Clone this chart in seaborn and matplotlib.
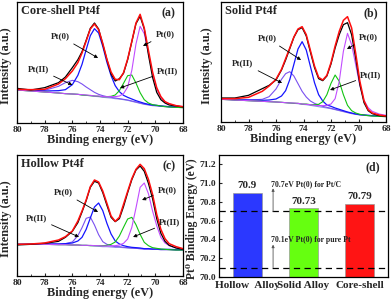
import matplotlib
matplotlib.use("Agg")
import matplotlib.pyplot as plt
import seaborn as sns

# Binding-energy grid shared by the three Pt4f spectra (eV)
energy = [80, 79, 78, 77, 76.5, 76, 75.6, 75.3, 75, 74.7, 74.4, 74.1, 73.8, 73.5, 73.2,
          72.9, 72.6, 72.3, 72, 71.7, 71.4, 71.1, 70.8, 70.5, 70.2, 69.9, 69.6, 69.3, 69, 68.5, 68]

# (a) Core-shell
a_bg = [99, 96, 93, 90, 88, 87, 86, 84, 83, 82, 80, 79, 77, 76, 75, 73, 72, 70, 68, 65, 62, 59, 56, 54, 52, 51, 50, 49, 48, 47, 46]
a_red = [101, 100, 101, 117, 133, 156, 181, 210, 246, 282, 297, 280, 239, 191, 153, 131, 130, 151, 192, 245, 300, 326, 285, 218, 153, 106, 79, 64, 58, 52, 49]
a_black = [104, 99, 106, 121, 138, 166, 190, 214, 248, 284, 300, 282, 236, 190, 147, 126, 133, 149, 190, 244, 298, 320, 282, 205, 137, 92, 70, 60, 54, 51, 48]
a_pt0_52 = [100, 98, 96, 97, 100, 115, 143, 176, 220, 262, 283, 270, 230, 182, 142, 112, 94, 83, 77, 72, 67, 63, 59, 56, 54, 53, 51, 50, 49, 48, 47]
a_pt2_52 = [100, 98, 98, 110, 121, 128, 124, 117, 108, 100, 92, 86, 82, 79, 77, 75, 73, 71, 69, 66, 63, 60, 57, 55, 53, 52, 51, 50, 49, 48, 47]
a_pt0_72 = [99, 96, 93, 90, 88, 87, 86, 85, 84, 83, 81, 81, 79, 79, 79, 79, 81, 88, 108, 158, 237, 290, 268, 210, 148, 102, 77, 63, 57, 52, 49]
a_pt2_72 = [99, 96, 93, 90, 88, 87, 86, 84, 83, 82, 81, 80, 79, 79, 80, 84, 97, 119, 142, 144, 120, 91, 70, 60, 55, 53, 51, 49, 48, 47, 46]

# (b) Solid
b_bg = [68, 66, 64, 62, 61, 60, 59, 58, 57, 56, 55, 53, 52, 50, 48, 46, 44, 42, 40, 37, 34, 31, 28, 25, 23, 21, 20, 19, 18, 17, 16]
b_red = [70, 70, 74, 92, 108, 128, 158, 190, 222, 255, 279, 286, 262, 215, 168, 134, 126, 140, 178, 228, 272, 305, 316, 282, 205, 122, 64, 37, 27, 21, 18]
b_black = [72, 72, 80, 100, 110, 126, 156, 186, 220, 254, 277, 283, 258, 210, 163, 130, 124, 138, 174, 222, 262, 292, 298, 262, 190, 112, 58, 34, 25, 19, 17]
b_pt0_52 = [69, 67, 66, 65, 66, 69, 78, 94, 127, 173, 219, 241, 216, 167, 118, 82, 63, 51, 47, 42, 38, 34, 30, 27, 24, 22, 21, 20, 19, 18, 17]
b_pt2_52 = [69, 67, 66, 68, 76, 99, 128, 145, 151, 138, 115, 92, 75, 63, 56, 51, 47, 44, 41, 38, 35, 32, 29, 26, 24, 22, 21, 20, 19, 18, 17]
b_pt0_72 = [68, 66, 64, 62, 61, 60, 59, 58, 57, 57, 56, 54, 53, 52, 50, 49, 49, 50, 54, 70, 122, 212, 266, 232, 171, 109, 65, 43, 32, 24, 20]
b_pt2_72 = [68, 66, 64, 62, 61, 60, 59, 58, 57, 56, 56, 54, 54, 52, 52, 53, 61, 82, 116, 141, 122, 82, 50, 34, 27, 23, 21, 19, 18, 17, 16]

# (c) Hollow
c_bg = [95, 95, 95, 94, 94, 93, 93, 92, 92, 91, 90, 89, 88, 88, 87, 86, 86, 85, 84, 83, 83, 82, 81, 81, 80, 80, 79, 79, 79, 78, 78]
c_red = [95, 96, 99, 108, 118, 135, 165, 195, 228, 268, 288, 282, 255, 218, 180, 164, 176, 215, 254, 292, 320, 335, 322, 290, 245, 185, 140, 112, 97, 88, 82]
c_black = [93, 95, 98, 104, 116, 134, 160, 192, 226, 266, 284, 279, 250, 212, 176, 163, 172, 208, 250, 289, 318, 330, 314, 278, 232, 172, 128, 104, 92, 84, 80]
c_pt0_52 = [95, 96, 96, 96, 97, 99, 105, 116, 140, 174, 207, 219, 196, 158, 126, 105, 96, 91, 88, 86, 85, 84, 82, 82, 81, 81, 80, 80, 80, 79, 79]
c_pt2_52 = [95, 95, 96, 96, 97, 102, 121, 145, 173, 177, 153, 124, 103, 95, 91, 88, 88, 86, 85, 84, 83, 82, 81, 81, 80, 80, 79, 79, 79, 78, 78]
c_pt0_72 = [95, 95, 95, 94, 94, 93, 93, 92, 92, 92, 91, 91, 90, 90, 90, 91, 93, 98, 111, 146, 204, 266, 279, 247, 195, 151, 116, 99, 91, 84, 82]
c_pt2_72 = [95, 95, 95, 94, 94, 93, 93, 92, 92, 91, 91, 91, 91, 92, 95, 102, 120, 146, 171, 176, 154, 125, 101, 91, 85, 83, 81, 80, 79, 78, 78]

# (d) Pt0 binding energy
bar_names = ["Hollow  Alloy", "Solid Alloy", "Core-shell"]
bar_values = [70.9, 70.73, 70.78]
bar_labels = ["70.9", "70.73", "70.79"]
bar_colors = ["#2b38ff", "#66ff10", "#ff1414"]
ref_lines = [70.7, 70.1]
ref_texts = ["70.7eV Pt(0) for Pt/C", "70.1eV Pt(0) for pure Pt"]

sns.set_style("ticks")
plt.rcParams["font.family"] = ["Liberation Serif", "DejaVu Serif"]
plt.rcParams["font.weight"] = "bold"
plt.rcParams["axes.labelweight"] = "bold"
plt.rcParams["axes.edgecolor"] = "black"
plt.rcParams["axes.linewidth"] = 0.9

W, H = 392, 305
fig = plt.figure(figsize=(W / 100, H / 100), dpi=100)


def box(l, t, r, b):
    return [l / W, 1 - b / H, (r - l) / W, (b - t) / H]


def xps_panel(ax, bg, p52, p2_52, p72, p2_72, black, red, ymax, title, tag, notes, ylab_x):
    curves = [(bg, "#8c93e6", 0.8), (p2_52, "#7a50f0", 0.8), (p52, "#1414ff", 0.9),
              (p2_72, "#12c412", 0.8), (p72, "#c24cff", 0.8), (black, "black", 0.9), (red, "#ff0d0d", 1.1)]
    for vals, col, lw in curves:
        sns.lineplot(x=energy, y=vals, color=col, lw=lw, ax=ax)
    ax.set_xlim(80, 68)
    ax.set_ylim(0, ymax)
    ax.set_xticks([80, 78, 76, 74, 72, 70, 68])
    ax.set_xticks([79, 77, 75, 73, 71, 69], minor=True)
    ax.set_yticks([])
    ax.tick_params(axis="x", which="both", direction="in", labelsize=6.8, pad=2, top=False)
    ax.tick_params(axis="x", which="major", length=2.5)
    ax.tick_params(axis="x", which="minor", length=1.5)
    ax.set_xlabel("Binding energy (eV)", fontsize=8.8, labelpad=0)
    ax.set_ylabel("Intensity (a.u.)", fontsize=8.8)
    ax.yaxis.set_label_coords(ylab_x, 0.47)
    ax.text(0.025, 0.975, title, transform=ax.transAxes, ha="left", va="top", fontsize=8.8)
    ax.text(0.955, 0.955, tag, transform=ax.transAxes, ha="right", va="top", fontsize=8.5)
    for txt, xt, yt, xa, ya in notes:
        ax.annotate(txt, xy=(xa, ya), xytext=(xt, yt), ha="center", va="center", fontsize=6.5,
                    arrowprops=dict(arrowstyle="-|>", color="black", lw=0.6,
                                    mutation_scale=5, shrinkA=1, shrinkB=0))


ax_a = fig.add_axes(box(17, 2, 183, 123))
xps_panel(ax_a, a_bg, a_pt0_52, a_pt2_52, a_pt0_72, a_pt2_72, a_black, a_red, 363,
          "Core-shell Pt4f", "(a)",
          [("Pt(0)", 76.9, 261, 74.14, 195), ("Pt(0)", 69.3, 267, 70.89, 231),
           ("Pt(II)", 78.45, 162, 76.0, 114), ("Pt(II)", 69.1, 156, 72.55, 105)], -0.03)

ax_b = fig.add_axes(box(221, 2, 386, 122))
xps_panel(ax_b, b_bg, b_pt0_52, b_pt2_52, b_pt0_72, b_pt2_72, b_black, b_red, 360,
          "Solid Pt4f", "(b)",
          [("Pt(0)", 76.65, 252, 74.18, 186), ("Pt(0)", 69.3, 255, 70.84, 219),
           ("Pt(II)", 78.4, 177, 75.56, 117), ("Pt(II)", 69.1, 141, 72.07, 96)], -0.048)

ax_c = fig.add_axes(box(17, 155, 183, 276))
xps_panel(ax_c, c_bg, c_pt0_52, c_pt2_52, c_pt0_72, c_pt2_72, c_black, c_red, 363,
          "Hollow Pt4f", "(c)",
          [("Pt(0)", 76.67, 252, 74.14, 192), ("Pt(0)", 69.15, 258, 70.96, 228),
           ("Pt(II)", 78.6, 174, 75.52, 117), ("Pt(II)", 68.95, 162, 71.61, 117)], -0.03)

ax_d = fig.add_axes(box(219, 155, 388, 277))
sns.barplot(x=bar_names, y=bar_values, hue=bar_names, palette=bar_colors, width=0.52,
            saturation=1, legend=False, edgecolor="#9a9a9a", linewidth=0.5, ax=ax_d)
ax_d.set_xlim(-0.5, 2.5)
ax_d.set_ylim(70.0, 71.3)
for y in ref_lines:
    ax_d.axhline(y, color="black", lw=0.9, ls=(0, (5, 3.5)), zorder=3)
for i, (v, lab) in enumerate(zip(bar_values, bar_labels)):
    ax_d.text(i, v + 0.025, lab, ha="center", va="bottom", fontsize=8)
for y, txt in zip(ref_lines, ref_texts):
    ax_d.annotate("", xy=(0.46, y + 0.245), xytext=(0.46, y),
                  arrowprops=dict(arrowstyle="-|>", color="#555555", lw=0.6,
                                  mutation_scale=4, shrinkA=0, shrinkB=0))
    ax_d.text(0.42, y + 0.29, txt, ha="left", va="center", fontsize=5.6)
ax_d.text(0.955, 0.9, "(d)", transform=ax_d.transAxes, ha="right", va="center", fontsize=8.5)
ax_d.set_yticks([70.0, 70.2, 70.4, 70.6, 70.8, 71.0, 71.2])
ax_d.set_yticklabels(["70.0", "70.2", "70.4", "70.6", "70.8", "71.0", "71.2"])
ax_d.tick_params(axis="y", direction="in", length=2.5, labelsize=6.8, pad=2)
ax_d.tick_params(axis="x", length=0, labelsize=8.1, pad=3)
ax_d.set_ylabel("Pt\u2070 Binding Energy (eV)", fontsize=8.3)
ax_d.yaxis.set_label_coords(-0.125, 0.48)
ax_d.set_xlabel("")

fig.savefig("out.png", dpi=100)
